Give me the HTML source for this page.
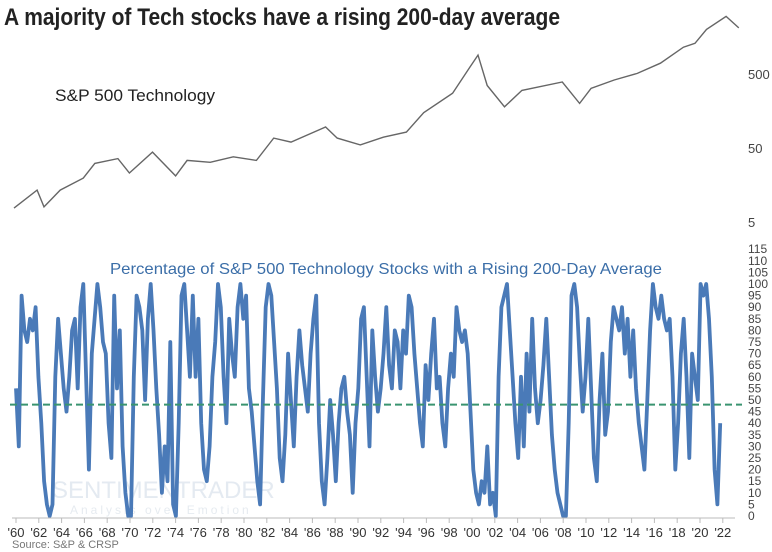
<!DOCTYPE html>
<html><head><meta charset="utf-8"><style>
body{margin:0;background:#fff}
svg{display:block;font-family:"Liberation Sans",sans-serif}
</style></head><body>
<svg id="c" width="772" height="552" viewBox="0 0 772 552">
<rect width="772" height="552" fill="#fff"/>
<text x="4" y="25" font-size="24" font-weight="bold" fill="#222" textLength="556" lengthAdjust="spacingAndGlyphs">A majority of Tech stocks have a rising 200-day average</text>
<text x="55" y="101" font-size="17" fill="#222" textLength="160" lengthAdjust="spacingAndGlyphs">S&amp;P 500 Technology</text>
<text x="110" y="274" font-size="16" fill="#3b6ea8" textLength="552" lengthAdjust="spacingAndGlyphs">Percentage of S&amp;P 500 Technology Stocks with a Rising 200-Day Average</text>
<text x="52" y="498" font-size="24" fill="#e4eaf1">SENTIMENTRADER</text>
<text x="70" y="514" font-size="12" fill="#e6ebf0" letter-spacing="3">Analysis over Emotion</text>
<g id="gtop"></g>
<g id="gbot"></g>
<g id="gx"></g>
<text x="12" y="548" font-size="11" fill="#777">Source: S&amp;P &amp; CRSP</text>
</svg>
<script>
const priceYears=[1960,1962,1962.6,1964,1966,1967,1969,1970,1972,1974,1975,1977,1979,1981,1982.5,1984,1987,1988,1990,1992,1994,1995.5,1998,1999.5,2000.2,2001,2002.5,2004,2007.5,2009,2010,2012,2014,2016,2018,2019,2020,2021.7,2022.8];
const priceValues=[7.7,13.5,8,13.5,19.6,31,36,23,44,21,34,32,38,34,68,60,96,68,55,70,82,150,275,620,900,350,180,300,390,200,320,415,510,700,1150,1300,2000,3000,2100];
const priceTicks=[5,50,500];
const pctStartYear=1960;
const pctPerYear=4;
const pctValues=[
55,30,95,80, 75,85,80,90, 60,40,15,5, 0,5,60,85, 70,55,45,60, 80,85,55,90, 100,60,20,70, 85,100,90,75,
70,40,25,95, 55,80,30,10, 0,0,60,95, 90,80,50,85, 100,80,55,35, 10,30,15,75, 5,0,40,95, 100,80,60,95,
60,85,40,20, 15,30,60,75, 100,90,60,40, 85,70,60,90, 100,85,95,55, 45,30,15,5, 50,90,100,95, 75,55,25,15,
35,70,50,30, 60,80,65,55, 45,70,85,95, 40,15,5,25, 50,35,15,40, 55,60,45,35, 10,40,55,85,
90,60,30,80, 60,45,55,70, 90,65,55,80, 75,55,80,70, 95,90,70,55, 40,30,65,50, 70,85,55,60, 40,30,55,70,
60,90,80,75, 80,70,45,20, 10,5,15,10, 30,5,10,0, 60,90,95,100, 80,60,40,25, 60,30,70,45, 85,55,40,50,
65,85,60,35, 20,10,5,0, 0,40,95,100, 90,65,45,60, 85,55,25,15, 50,70,35,45, 75,90,85,80, 90,70,85,60,
80,55,40,30, 20,50,80,100, 90,85,95,85, 80,85,60,20, 40,70,85,60, 25,70,60,50, 100,95,100,85, 60,20,5,40];
const pctTicks=[0,5,10,15,20,25,30,35,40,45,50,55,60,65,70,75,80,85,90,95,100,105,110,115];
const refLevel=48;
const xTickYears=[];for(let y=1960;y<=2022;y+=2)xTickYears.push(y);

const NS="http://www.w3.org/2000/svg";
function mk(t,a,p){const e=document.createElementNS(NS,t);for(const k in a)e.setAttribute(k,a[k]);p.appendChild(e);return e;}
const gTop=document.getElementById('gtop'),gBot=document.getElementById('gbot'),gX=document.getElementById('gx');
const xTop=y=>14+(y-1960)*(740-14)/(2022.9-1960);
const yTop=v=>222-(Math.log10(v)-Math.log10(5))*74;
const xBot=y=>16+(y-1960)*(723-16)/(2023-1960);
const yBot=v=>516-v*2.32;
const xTick=y=>16+(y-1960)*11.4;

let d=priceYears.map((y,i)=>(i?'L':'M')+xTop(y).toFixed(1)+' '+yTop(priceValues[i]).toFixed(1)).join(' ');
const pl=mk('path',{d:d,fill:'none',stroke:'#666','stroke-width':1.4},gTop);


priceTicks.forEach(v=>{const t=mk('text',{x:748,y:yTop(v)+5,'font-size':13,fill:'#444'},gTop);t.textContent=v;

});

d=pctValues.map((v,i)=>(i?'L':'M')+xBot(pctStartYear+i/pctPerYear).toFixed(1)+' '+yBot(v).toFixed(1)).join(' ');
const bl=mk('path',{d:d,fill:'none',stroke:'#4a7ab8','stroke-width':3.8,'stroke-linejoin':'round'},gBot);


const rl=mk('line',{x1:10,x2:742,y1:yBot(refLevel),y2:yBot(refLevel),stroke:'#3a9470','stroke-width':2,'stroke-dasharray':'7 4'},gBot);


pctTicks.forEach(v=>{const t=mk('text',{x:748,y:yBot(v)+4,'font-size':12,fill:'#444'},gBot);t.textContent=v;

});

const ax=mk('line',{x1:12,x2:735,y1:518,y2:518,stroke:'#bbb','stroke-width':1},gX);


xTickYears.forEach(y=>{const x=xTick(y);
const tk=mk('line',{x1:x,x2:x,y1:518,y2:523,stroke:'#bbb'},gX);


const t=mk('text',{x:x,y:537,'font-size':13,fill:'#333','text-anchor':'middle'},gX);t.textContent="'"+String(y).slice(2);

});
</script>
</body></html>
